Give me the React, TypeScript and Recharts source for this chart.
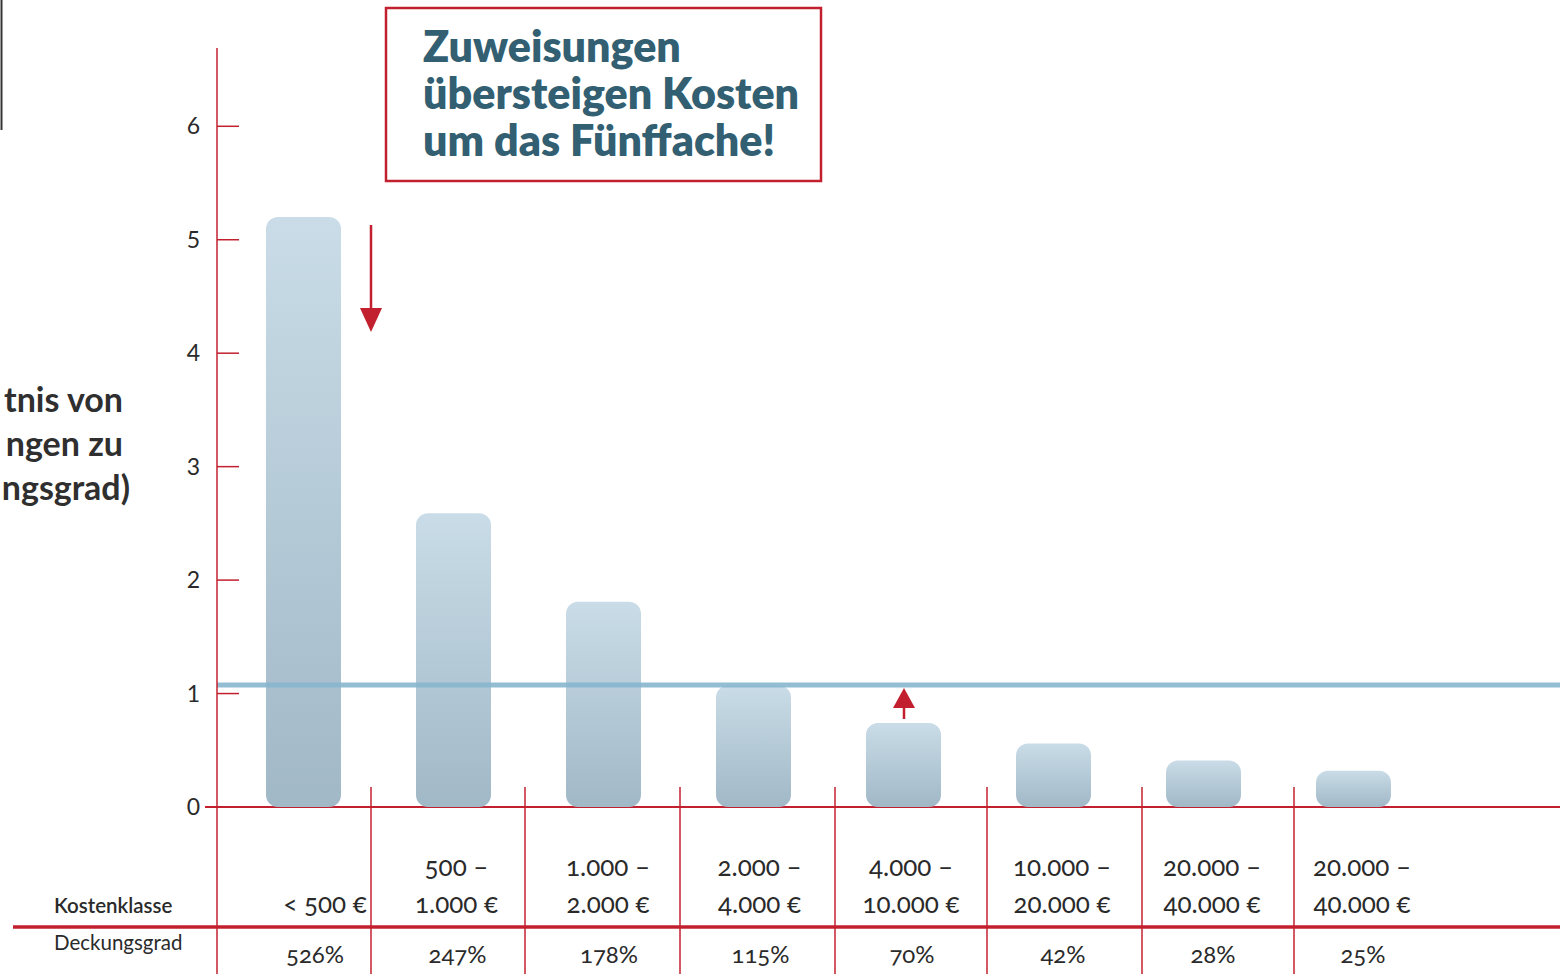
import { ComposedChart, Bar, XAxis, YAxis, ReferenceLine, Customized } from 'recharts';

const classLine1 = ['', '500 –', '1.000 –', '2.000 –', '4.000 –', '10.000 –', '20.000 –', '20.000 –'];
const classLine2 = ['< 500 €', '1.000 €', '2.000  €', '4.000 €', '10.000 €', '20.000 €', '40.000 €', '40.000 €'];
const coverage = ['526%', '247%', '178%', '115%', '70%', '42%', '28%', '25%'];
const ratio = [5.2, 2.59, 1.81, 1.07, 0.74, 0.56, 0.41, 0.32];
const yTicks = [0, 1, 2, 3, 4, 5, 6];
const costLine = 1.075;

const data = ratio.map((r, i) => ({
  key: String(i),
  ratio: r,
  line1: classLine1[i],
  line2: classLine2[i],
  pct: coverage[i],
}));

const RED = '#c3202f';
const TEAL = '#335f72';
const FONT = 'Lato, "Open Sans", sans-serif';

const YTick = ({ x, y, payload }: any) => (
  <g>
    <text x={x - 17} y={y + 8} textAnchor="end" fontSize={23} fill="#2a2a2a" fontFamily={FONT}>
      {payload.value}
    </text>
    <line x1={x} x2={x + 22} y1={y} y2={y} stroke={RED} strokeWidth={1.5} />
  </g>
);

const XTick = ({ x, y, payload, index }: any) => {
  const d = data[index] ?? data.find((e) => e.key === payload.value);
  // labels drift slightly right of the bars towards the right end
  const dx = index === 0 ? 22 : Math.min(2 + index * 1.5, 9);
  return (
    <g fontFamily={FONT} fill="#2a2a2a" style={{ fontVariantNumeric: 'oldstyle-nums' }}>
      <text x={x + dx} y={y + 69} textAnchor="middle" fontSize={26}>{d.line1}</text>
      <text x={x + dx} y={y + 106} textAnchor="middle" fontSize={26}>{d.line2}</text>
      <text x={x + (index === 0 ? 12 : dx + 1)} y={y + 156} textAnchor="middle" fontSize={24}>{d.pct}</text>
    </g>
  );
};

const Overlay = () => {
  const dividers = [371, 525, 680, 835, 987, 1142, 1294];
  return (
    <g>
      {/* left edge mark */}
      <line x1={1.5} x2={1.5} y1={0} y2={130} stroke="#333" strokeWidth={2} />
      {/* title box */}
      <rect x={386} y={8} width={435} height={173} fill="none" stroke={RED} strokeWidth={2.5} />
      <g fontFamily={FONT} fontWeight={800} fontSize={43} fill={TEAL}>
        <text x={423} y={62}>Zuweisungen</text>
        <text x={423} y={109}>übersteigen Kosten</text>
        <text x={423} y={156}>um das Fünffache!</text>
      </g>
      {/* y axis label, only the part that the page edge leaves visible */}
      <g fontFamily={FONT} fontWeight={700} fontSize={34} fill="#2f2f2f" textAnchor="end">
        <text x={123} y={412}>tnis von</text>
        <text x={123} y={456}>ngen zu</text>
        <text x={130} y={500}>ngsgrad)</text>
      </g>
      {/* axes and table lines */}
      <line x1={217} x2={217} y1={807} y2={974} stroke={RED} strokeWidth={1.5} />
      <line x1={205} x2={1560} y1={807} y2={807} stroke={RED} strokeWidth={2} />
      {dividers.map((dx) => (
        <line key={dx} x1={dx} x2={dx} y1={787} y2={974} stroke={RED} strokeWidth={1.5} />
      ))}
      <line x1={13} x2={1560} y1={927} y2={927} stroke={RED} strokeWidth={3.5} />
      <g fontFamily={FONT} fill="#2a2a2a" fontSize={20.5}>
        <text x={54} y={913} fontWeight={600}>Kostenklasse</text>
        <text x={54} y={950}>Deckungsgrad</text>
      </g>
      {/* arrows */}
      <line x1={371} x2={371} y1={225} y2={312} stroke={RED} strokeWidth={2.5} />
      <polygon points="360,308 382,308 371,332" fill={RED} />
      <line x1={904} x2={904} y1={704} y2={719} stroke={RED} strokeWidth={2.5} />
      <polygon points="893,708 915,708 904,688" fill={RED} />
    </g>
  );
};

export default function App() {
  return (
    <div style={{ position: 'absolute', left: 0, top: 0, width: 1560, height: 974, background: '#fff' }}>
      <ComposedChart width={1560} height={974} data={data} margin={{ top: 48, right: 0, bottom: 0, left: 0 }}>
        <defs>
          <linearGradient id="barGrad" x1="0" y1="0" x2="0" y2="1">
            <stop offset="0%" stopColor="#c9dce7" />
            <stop offset="100%" stopColor="#a1b8c7" />
          </linearGradient>
        </defs>
        <XAxis
          dataKey="key"
          height={167}
          padding={{ left: 11, right: 132 }}
          axisLine={false}
          tickLine={false}
          tickSize={0}
          tickMargin={0}
          interval={0}
          tick={<XTick />}
        />
        <YAxis
          width={217}
          domain={[0, 6.69]}
          ticks={yTicks}
          tickSize={0}
          tickMargin={0}
          tickLine={false}
          axisLine={{ stroke: RED, strokeWidth: 1.5 }}
          tick={<YTick />}
        />
        <Bar dataKey="ratio" barSize={75} radius={12} fill="url(#barGrad)" isAnimationActive={false} />
        <ReferenceLine y={costLine} stroke="#86b6ce" strokeOpacity={0.9} strokeWidth={5} />
        <Customized component={<Overlay />} />
      </ComposedChart>
    </div>
  );
}
